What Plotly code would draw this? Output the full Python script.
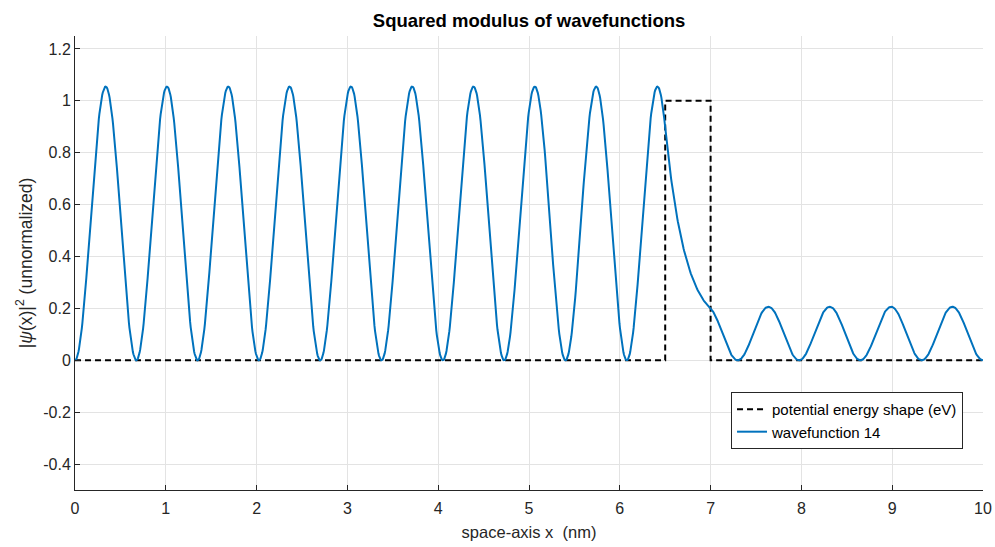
import numpy as np
import plotly.graph_objects as go

# Potential profile (eV) over the hard-wall box 0..10 nm
pot_x = [0, 6.5, 6.5, 7, 7, 10]
pot_v = [0, 0, 1, 1, 0, 0]

# Problem parameters
box_length = 10.0          # nm
barrier_start = 6.5        # nm
barrier_end = 7.0          # nm
barrier_height = 1.0       # eV
state_index = 14           # which eigenstate is drawn
hbar2_over_2m = 0.0380998  # eV nm^2 (free electron)
peak_value = 1.055         # scale of |psi|^2 in the left region

x_ticks = [0, 1, 2, 3, 4, 5, 6, 7, 8, 9, 10]
y_ticks = [-0.4, -0.2, 0, 0.2, 0.4, 0.6, 0.8, 1, 1.2]
y_tick_text = ["-0.4", "-0.2", "0", "0.2", "0.4", "0.6", "0.8", "1", "1.2"]

# Finite-difference Schrodinger solver
n_pts = 1600
x_in = np.linspace(0, box_length, n_pts + 2)[1:-1]
dx = x_in[1] - x_in[0]
v_grid = np.where((x_in >= barrier_start) & (x_in <= barrier_end), barrier_height, 0.0)
t = hbar2_over_2m / dx**2
H = np.diag(2 * t + v_grid) - t * np.eye(n_pts, k=1) - t * np.eye(n_pts, k=-1)
energies, vecs = np.linalg.eigh(H)
psi = vecs[:, state_index - 1]
prob = psi**2
left = x_in < barrier_start
prob = prob / prob[left].max() * peak_value
wave_x = np.concatenate([[0], x_in, [box_length]])
wave_y = np.concatenate([[0], prob, [0]])

fig = go.Figure()
fig.add_trace(go.Scatter(
    x=pot_x, y=pot_v, mode="lines", name="potential energy shape (eV)",
    line=dict(color="black", width=2, dash="6px,4px"),
))
fig.add_trace(go.Scatter(
    x=wave_x, y=wave_y, mode="lines", name="wavefunction 14",
    line=dict(color="#0072BD", width=2),
))

axis_color = "#262626"
fig.update_layout(
    width=995, height=547,
    margin=dict(l=75, r=12, t=36, b=57),
    paper_bgcolor="white", plot_bgcolor="white",
    font=dict(family="Liberation Sans, Arial, sans-serif", color=axis_color, size=16),
    title=dict(text="<b>Squared modulus of wavefunctions</b>", x=0.5317, xanchor="center",
               y=0.962, yanchor="middle", font=dict(size=18.5, color="black")),
    showlegend=True,
    legend=dict(x=0.7225, y=0.216, xanchor="left", yanchor="top",
                bgcolor="white", bordercolor=axis_color, borderwidth=1,
                font=dict(size=15, color="black"), tracegroupgap=0,
                itemwidth=30),
    xaxis=dict(range=[0, 10], tickvals=x_ticks, showgrid=True, gridcolor="#e3e3e3",
               zeroline=False, showline=True, linecolor=axis_color, linewidth=1,
               ticks="inside", ticklen=5, tickcolor=axis_color, automargin=False,
               ticklabelstandoff=4,
               title=dict(text="space-axis x  (nm)", font=dict(size=16.5), standoff=10)),
    yaxis=dict(range=[-0.5, 1.25], tickvals=y_ticks, ticktext=y_tick_text, showgrid=True,
               gridcolor="#e3e3e3", zeroline=False, showline=True, linecolor=axis_color,
               linewidth=1, ticks="inside", ticklen=5, tickcolor=axis_color, automargin=False,
               title=dict(text="|<i>ψ</i>(x)|<sup>2</sup> (unnormalized)", font=dict(size=17.5),
                          standoff=6)),
)

fig.write_html("out.html")
